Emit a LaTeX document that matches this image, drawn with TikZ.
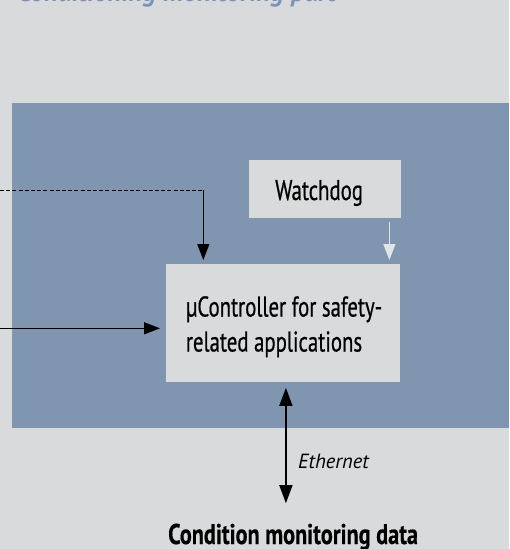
\documentclass[tikz,border=0pt]{standalone}
\usepackage{fontspec}
\setmainfont{PT Sans}
\newfontfamily\condfont{PT Sans}[FakeStretch=0.73,FakeBold=0.5]
\newfontfamily\condbold{PT Sans Bold}[FakeStretch=0.78,FakeBold=0.4]
\newfontfamily\ethfont{PT Sans Italic}[FakeStretch=1.0]
\newfontfamily\titlefont{PT Sans Bold Italic}
\usetikzlibrary{arrows.meta,calc}
\definecolor{bgGrey}{HTML}{D8DADC}
\definecolor{panelBlue}{HTML}{7F95B0}
\definecolor{titleBlue}{HTML}{7D93B3}
\definecolor{wdArrow}{HTML}{E2E4E6}
\tikzset{
  boxnode/.style={fill=bgGrey, draw=none, inner sep=0pt, anchor=north west},
  txt/.style={anchor=base west, inner sep=0pt, font=\condfont\fontsize{28.5}{34}\selectfont},
  conn/.style={line width=1.3pt, -{Triangle[length=16pt,width=12pt]}},
}
\begin{document}
\begin{tikzpicture}[x=1pt,y=-1pt]
\fill[bgGrey] (0,0) rectangle (509,549);
\useasboundingbox (0,0) rectangle (509,549);
\fill[panelBlue] (12,103) rectangle (509,427.5);
% title (cut at the top edge)
\node[anchor=base west, inner sep=0pt, text=titleBlue,
      font=\titlefont\fontsize{27}{32}\selectfont] (title) at (17,1.2) {Conditioning monitoring part};
% boxes
\node[boxnode, minimum width=152pt, minimum height=57.5pt] (wd) at (249,160) {};
\node[boxnode, minimum width=234pt, minimum height=117.5pt] (ctrl) at (166,264) {};
% texts
\node[txt] (wdtxt) at (275,200) {Watchdog};
\node[txt] (ctrltxtA) at (185.7,316.5) {µController for safety-};
\node[txt] (ctrltxtB) at (185.7,351.5) {related applications};
\node[anchor=base west, inner sep=0pt, font=\condbold\fontsize{28.5}{34}\selectfont] (cmd) at (168,544) {Condition monitoring data};
\node[anchor=base west, inner sep=0pt, font=\ethfont\fontsize{20.5}{24}\selectfont] (eth) at (298,468) {Ethernet};
% coordinates
\coordinate (dsrc) at (0,190.3);
\coordinate (dcorner) at ($(ctrl.north west)+(37.3,-73.7)$);
\coordinate (ssrc) at (0,328.3);
\coordinate (ethtop) at ($(ctrl.south)+(2.7,0)$);
\coordinate (ethbot) at ($(ctrl.south)+(2.7,121.3)$);
% connectors
\draw[line width=1pt, dash pattern=on 4pt off 2.2pt] (dsrc) -- (dcorner);
\draw[conn] (dcorner) -- ($(dcorner |- ctrl.north)+(0,-4)$);
\draw[conn] (ssrc) -- ($(ssrc -| ctrl.west)+(-6,0)$);
\draw[line width=1.3pt, draw=wdArrow, -{Triangle[length=16pt,width=12pt]}]
  ($(wd.south east)+(-12,4.5)$) -- ($(wd.south east |- ctrl.north)+(-12,-4)$);
\draw[line width=1.6pt, {Triangle[length=18pt,width=13pt]}-{Triangle[length=18pt,width=13pt]}]
  ($(ethtop)+(0,6)$) -- (ethbot);
\end{tikzpicture}
\end{document}
